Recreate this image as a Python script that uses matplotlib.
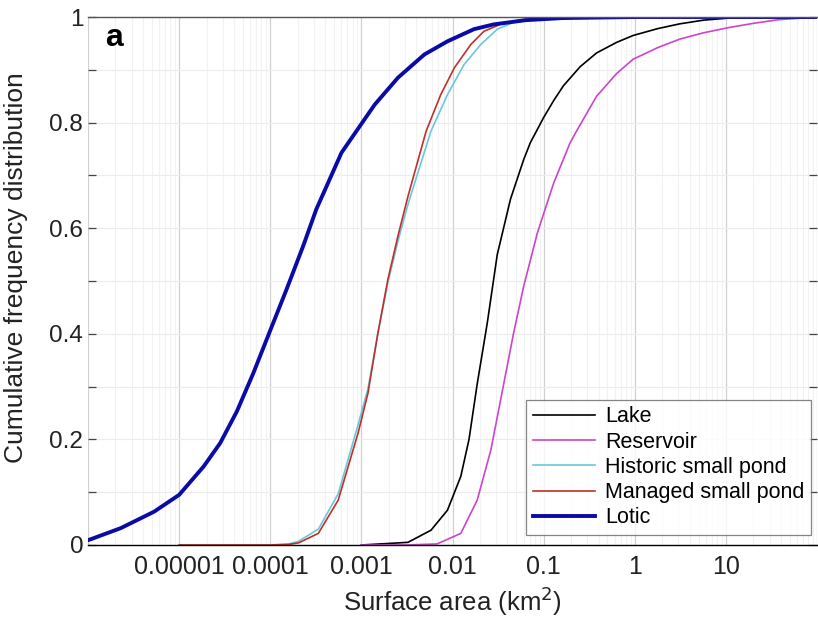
import numpy as np
import matplotlib
matplotlib.use("Agg")
import matplotlib.pyplot as plt
from matplotlib.ticker import FixedLocator, NullFormatter

plt.rcParams['font.family'] = ['Liberation Sans', 'DejaVu Sans']

# Values: log10(surface area, km2) and cumulative frequency
lake_log = [-3.0, -2.49, -2.237, -2.056, -1.983, -1.91, -1.82, -1.73, -1.62, -1.51,
            -1.365, -1.22, -1.147, -1.0, -0.89, -0.783, -0.6, -0.42, -0.2, -0.02,
            0.25, 0.49, 0.75, 1.03, 1.5, 2.0]
lake_cdf = [0.0, 0.005, 0.028, 0.066, 0.098, 0.13, 0.2, 0.305, 0.42, 0.55,
            0.655, 0.73, 0.762, 0.81, 0.842, 0.87, 0.906, 0.932, 0.952, 0.965,
            0.978, 0.987, 0.994, 0.998, 0.999, 1.0]

reservoir_log = [-3.0, -2.5, -2.17, -1.91, -1.73, -1.58, -1.437, -1.33, -1.22, -1.07,
                 -0.89, -0.71, -0.64, -0.42, -0.2, -0.02, 0.25, 0.49, 0.75, 1.03,
                 1.3, 1.58, 2.0]
reservoir_cdf = [0.0, 0.0, 0.002, 0.022, 0.085, 0.18, 0.307, 0.402, 0.49, 0.591,
                 0.686, 0.762, 0.784, 0.85, 0.893, 0.92, 0.942, 0.958, 0.97, 0.98,
                 0.988, 0.995, 1.0]

historic_log = [-5.0, -4.0, -3.8, -3.69, -3.473, -3.255, -3.05, -2.93, -2.82, -2.71,
                -2.60, -2.49, -2.237, -2.056, -1.874, -1.69, -1.51, -1.33, -1.0, -0.5, 2.0]
historic_cdf = [0.0, 0.0, 0.002, 0.007, 0.03, 0.097, 0.22, 0.295, 0.40, 0.497,
                0.575, 0.645, 0.784, 0.853, 0.91, 0.948, 0.977, 0.99, 0.998, 1.0, 1.0]

managed_log = [-5.0, -4.0, -3.8, -3.69, -3.473, -3.255, -3.037, -2.928, -2.819, -2.71,
               -2.60, -2.49, -2.437, -2.29, -2.13, -1.98, -1.80, -1.656, -1.45, -1.2,
               -0.8, 2.0]
managed_cdf = [0.0, 0.0, 0.001, 0.004, 0.022, 0.085, 0.212, 0.288, 0.402, 0.503,
               0.585, 0.66, 0.693, 0.784, 0.853, 0.904, 0.948, 0.973, 0.988, 0.996,
               1.0, 1.0]

lotic_log = [-6.0, -5.64, -5.276, -5.0, -4.73, -4.55, -4.367, -4.185, -4.004, -3.822,
             -3.64, -3.495, -3.42, -3.219, -3.055, -2.855, -2.60, -2.31, -2.056, -1.765,
             -1.55, -1.2, -0.8, 0.0, 2.0]
lotic_cdf = [0.009, 0.032, 0.063, 0.095, 0.149, 0.193, 0.253, 0.326, 0.405, 0.484,
             0.566, 0.636, 0.665, 0.743, 0.784, 0.834, 0.885, 0.929, 0.954, 0.977,
             0.986, 0.994, 0.998, 1.0, 1.0]

xtick_vals = [1e-5, 1e-4, 1e-3, 1e-2, 1e-1, 1, 10]
xtick_labels = ['0.00001', '0.0001', '0.001', '0.01', '0.1', '1', '10']

fig = plt.figure(figsize=(8.18, 6.21), dpi=100)
ax = fig.add_axes([0.1076, 0.1224, 0.8914, 0.8502])

# faint background grid
for k in range(-6, 2):
    for m in range(2, 10):
        ax.axvline(m * 10.0 ** k, color='#f2f2f2', lw=0.8, zorder=0)
for k in range(-6, 3):
    ax.axvline(10.0 ** k, color='#d0d0d0', lw=0.9, zorder=0)
for v in np.arange(0.1, 1.0, 0.1):
    ax.axhline(v, color='#ececec', lw=0.8, zorder=0)

ax.plot(10.0 ** np.array(lake_log), lake_cdf, color='black', lw=1.2, label='Lake')
ax.plot(10.0 ** np.array(reservoir_log), reservoir_cdf, color='#cc44cc', lw=1.2, label='Reservoir')
ax.plot(10.0 ** np.array(historic_log), historic_cdf, color='#6cc6dc', lw=1.2, label='Historic small pond')
ax.plot(10.0 ** np.array(managed_log), managed_cdf, color='#c0302a', lw=1.2, label='Managed small pond')
ax.plot(10.0 ** np.array(lotic_log), lotic_cdf, color='#0a0aa8', lw=2.8, label='Lotic')

ax.set_xscale('log')
ax.set_xlim(1e-6, 100)
ax.set_ylim(0, 1)
ax.set_xticks(xtick_vals)
ax.set_xticklabels(xtick_labels)
ax.xaxis.set_minor_locator(FixedLocator([]))
ax.xaxis.set_minor_formatter(NullFormatter())
ax.tick_params(axis='x', length=0, labelsize=18, pad=7, colors='#222222')

ax.set_yticks([0, 0.2, 0.4, 0.6, 0.8, 1])
ax.set_yticklabels(['0', '0.2', '0.4', '0.6', '0.8', '1'])
ax.yaxis.set_minor_locator(FixedLocator([0.1, 0.3, 0.5, 0.7, 0.9]))
ax.tick_params(axis='y', which='both', direction='in', length=6, width=0.9,
               left=True, right=True, color='#444444', labelsize=17.5, labelcolor='#222222')

for side in ['left', 'right']:
    ax.spines[side].set_visible(False)
ax.spines['top'].set_color('#555555')
ax.spines['top'].set_linewidth(1.0)
ax.spines['bottom'].set_color('black')
ax.spines['bottom'].set_linewidth(1.0)

ax.set_xlabel('Surface area (km$^2$)', fontsize=18.5, labelpad=4, color='#222222')
ax.set_ylabel('Cumulative frequency distribution', fontsize=19, color='#222222')
ax.yaxis.set_label_coords(-0.082, 0.525)

ax.text(0.023, 0.96, 'a', transform=ax.transAxes, fontsize=23, fontweight='bold',
        va='center', ha='left')

leg = ax.legend(loc='lower right', bbox_to_anchor=(0.991, 0.019), borderaxespad=0,
                fontsize=15.5, frameon=True, fancybox=False, handlelength=2.9,
                handletextpad=0.45, labelspacing=0.2, borderpad=0.3)
leg.get_frame().set_edgecolor('#666666')
leg.get_frame().set_linewidth(0.9)

fig.savefig('out.png', dpi=100)
